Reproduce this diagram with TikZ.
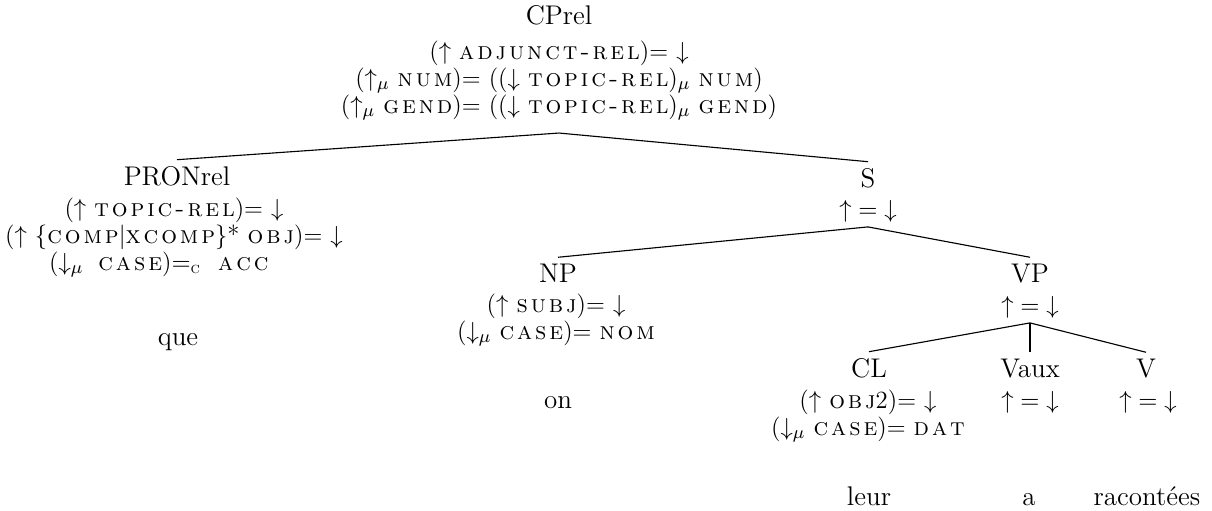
\documentclass[tikz,border=0pt]{standalone}
\usepackage{array}
% letter-spaced small capitals for attribute names
\newlength\scgap
\setlength\scgap{1.3pt}
\ExplSyntaxOn
\NewDocumentCommand\at{m}{\textsc{\tl_map_inline:nn{#1}{##1\kern\scgap}\unkern}}
\ExplSyntaxOff
\newcommand{\annlines}[1]{\begin{tabular}[t]{@{}c@{}}#1\end{tabular}}
\newcommand{\eqid}{$\mathord{\uparrow}=\mathord{\downarrow}$}
\newcommand{\eqc}{$=_{\mbox{\fontsize{7}{8}\selectfont\textsc{c}}}$}
% tree labels, f-annotations and words
\tikzset{
  lab/.style={font=\fontsize{12}{14}\selectfont, inner sep=0pt, outer sep=2.8pt, anchor=base},
  ann/.style={font=\fontsize{11}{12}\selectfont, inner sep=0pt, outer sep=0.8pt, anchor=base},
  word/.style={font=\fontsize{12}{14}\selectfont, inner sep=0pt, anchor=base},
  branch/.style={line width=0.5pt}
}
\begin{document}
\begin{tikzpicture}[x=0.4444pt, y=-0.4444pt]
\useasboundingbox (0,0) rectangle (1212,510);

% root
\node[lab] (cp) at (559,24) {CPrel};
\node[ann, outer ysep=5.3pt] (cpf) at (559,59) {\annlines{%
  ($\uparrow$ \at{adjunct-rel})= $\downarrow$\\
  ($\uparrow_\mu$ \at{num})= (($\downarrow$ \at{topic-rel})$_\mu$ \at{num})\\
  ($\uparrow_\mu$ \at{gend})= (($\downarrow$ \at{topic-rel})$_\mu$ \at{gend})}};

% relative pronoun
\node[lab] (pron) at (177,185) {PRONrel};
\node[ann] (pronf) at (174,216) {\annlines{%
  ($\uparrow$ \at{topic-rel})= $\downarrow$\\
  ($\uparrow$ $\{$\at{comp}$|$\at{xcomp}$\}$* \at{obj})= $\downarrow$\\
  ($\downarrow_\mu$\hspace{3pt} \at{case})\eqc\hspace{4pt} \at{acc}\hspace*{13.5pt}}};
\node[word] (que) at (178,345) {que};

% S
\node[lab] (s) at (868,187) {S};
\node[ann] (sf) at (868,217) {\annlines{\eqid}};

% subject
\node[lab] (np) at (558,282) {NP};
\node[ann] (npf) at (556,312) {\annlines{%
  ($\uparrow$ \at{subj})= $\downarrow$\\
  ($\downarrow_\mu$ \at{case})= \at{nom}}};
\node[word] (on) at (558,408) {on};

% VP
\node[lab] (vp) at (1030,282) {VP};
\node[ann] (vpf) at (1030,313) {\annlines{\eqid}};

% clitic, auxiliary, verb
\node[lab] (cl) at (869,377) {CL};
\node[ann] (clf) at (868,408) {\annlines{%
  ($\uparrow$ \at{obj}2)= $\downarrow$\\
  ($\downarrow_\mu$ \at{case})= \at{dat}}};
\node[word] (leur) at (869,505) {leur};

\node[lab] (vaux) at (1030,377) {Vaux};
\node[ann] (vauxf) at (1030,408) {\annlines{\eqid}};
\node[word] (a) at (1029,505) {a};

\node[lab] (v) at (1146,377) {V};
\node[ann] (vf) at (1148,408) {\annlines{\eqid}};
\node[word] (racontees) at (1147,505) {racontées};

% branches
\draw[branch] (pron.north) -- (cpf.south) -- (s.north);
\draw[branch] (np.north) -- (sf.south) -- (vp.north);
\draw[branch] (cl.north) -- (vpf.south) -- (v.north);
\draw[branch] (vpf.south) -- (vaux.north);
\end{tikzpicture}
\end{document}
